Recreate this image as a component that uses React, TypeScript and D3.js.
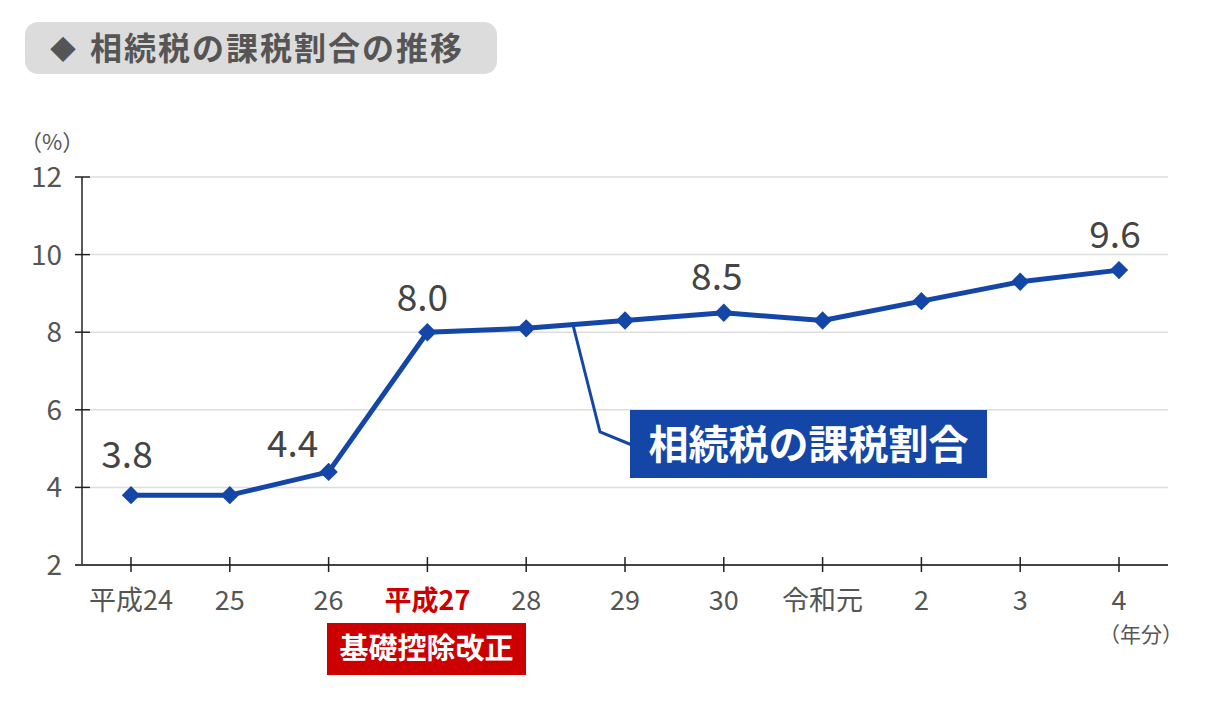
import React from 'react';
import * as d3 from 'd3';

const years = ['平成24', '25', '26', '平成27', '28', '29', '30', '令和元', '2', '3', '4'];
const ratios = [3.8, 3.8, 4.4, 8.0, 8.1, 8.3, 8.5, 8.3, 8.8, 9.3, 9.6];
const labelled = ['平成24', '26', '平成27', '30', '4'];
const yTicks = [2, 4, 6, 8, 10, 12];

const FONT = '"Noto Sans CJK JP", "Noto Sans", sans-serif';

export default function App() {
  const W = 1208;
  const H = 706;
  const left = 82;
  const right = 1168;

  const x = d3.scalePoint<string>().domain(years).range([131, 1119]);
  const y = d3.scaleLinear().domain([2, 12]).range([565, 177]);

  const line = d3.line<number>()
    .x((_, i) => x(years[i]) as number)
    .y(d => y(d));

  // label nudges [dx, dy] relative to the point
  const labelOffset: Record<string, [number, number]> = {
    '平成24': [-4, -27],
    '26': [-36, -15],
    '平成27': [-5, -21],
    '30': [-7, -23],
    '4': [-4, -22],
  };

  return (
    <svg width={W} height={H} style={{ display: 'block', position: 'absolute', left: 0, top: 0 }}>
      <rect width={W} height={H} fill="#fff" />

      {/* Title */}
      <rect x={25} y={22} width={472} height={52} rx={13} fill="#dcdcdc" />
      <text x={50} y={59} fontFamily={FONT} fontSize={26} fontWeight="bold" fill="#555">◆</text>
      <text x={90} y={60} fontFamily={FONT} fontSize={32} fontWeight="bold" fill="#555" letterSpacing={2}>
        相続税の課税割合の推移
      </text>

      <text x={20} y={150} fontFamily={FONT} fontSize={22} fill="#555">（%）</text>

      {/* Grid */}
      {yTicks.map(t => (
        <g key={t}>
          {t > 2 && <line x1={90} x2={right} y1={y(t)} y2={y(t)} stroke="#ddd" strokeWidth={1.5} />}
          <line x1={75} x2={90} y1={y(t)} y2={y(t)} stroke="#222" strokeWidth={1.5} />
          <text x={62} y={y(t)} dy="0.36em" textAnchor="end" fontFamily={FONT} fontSize={28} fill="#555">{t}</text>
        </g>
      ))}
      <line x1={left} x2={left} y1={y(12)} y2={y(2)} stroke="#222" strokeWidth={1.5} />
      <line x1={75} x2={right} y1={y(2)} y2={y(2)} stroke="#444" strokeWidth={2} />

      {/* X ticks */}
      {years.map(c => (
        <g key={c}>
          <line x1={x(c)} x2={x(c)} y1={557} y2={572} stroke="#222" strokeWidth={1.5} />
          <text
            x={x(c)}
            y={610}
            textAnchor="middle"
            fontFamily={FONT}
            fontSize={27}
            fontWeight={c === '平成27' ? 'bold' : 'normal'}
            fill={c === '平成27' ? '#cc0000' : '#555'}
          >
            {c}
          </text>
        </g>
      ))}
      <text x={1183} y={642} textAnchor="end" fontFamily={FONT} fontSize={21} fill="#555">（年分）</text>

      {/* Red note */}
      <rect x={327} y={623} width={199} height={52} fill="#cc0000" />
      <text x={426.5} y={649} dy="0.36em" textAnchor="middle" fontFamily={FONT} fontSize={29} fontWeight="bold" fill="#fff">
        基礎控除改正
      </text>

      {/* Callout */}
      <polyline points={`${573},${325} ${600},${432} ${632},${445}`} fill="none" stroke="#1446a8" strokeWidth={3} />
      <rect x={630} y={410} width={357} height={68} fill="#1446a8" />
      <text x={808.5} y={445} dy="0.36em" textAnchor="middle" fontFamily={FONT} fontSize={40} fontWeight="bold" fill="#fff">
        相続税の課税割合
      </text>

      {/* Line */}
      <path d={line(ratios) || ''} fill="none" stroke="#1446a8" strokeWidth={5} strokeLinejoin="round" />
      {ratios.map((v, i) => (
        <rect
          key={i}
          x={-6.5}
          y={-6.5}
          width={13}
          height={13}
          fill="#1446a8"
          transform={`translate(${x(years[i])},${y(v)}) rotate(45)`}
        />
      ))}

      {/* Value labels */}
      {ratios.map((v, i) =>
        labelled.includes(years[i]) ? (
          <text
            key={'l' + i}
            x={(x(years[i]) as number) + labelOffset[years[i]][0]}
            y={y(v) + labelOffset[years[i]][1]}
            textAnchor="middle"
            fontFamily={FONT}
            fontSize={37}
            fill="#444"
          >
            {v.toFixed(1)}
          </text>
        ) : null
      )}
    </svg>
  );
}
